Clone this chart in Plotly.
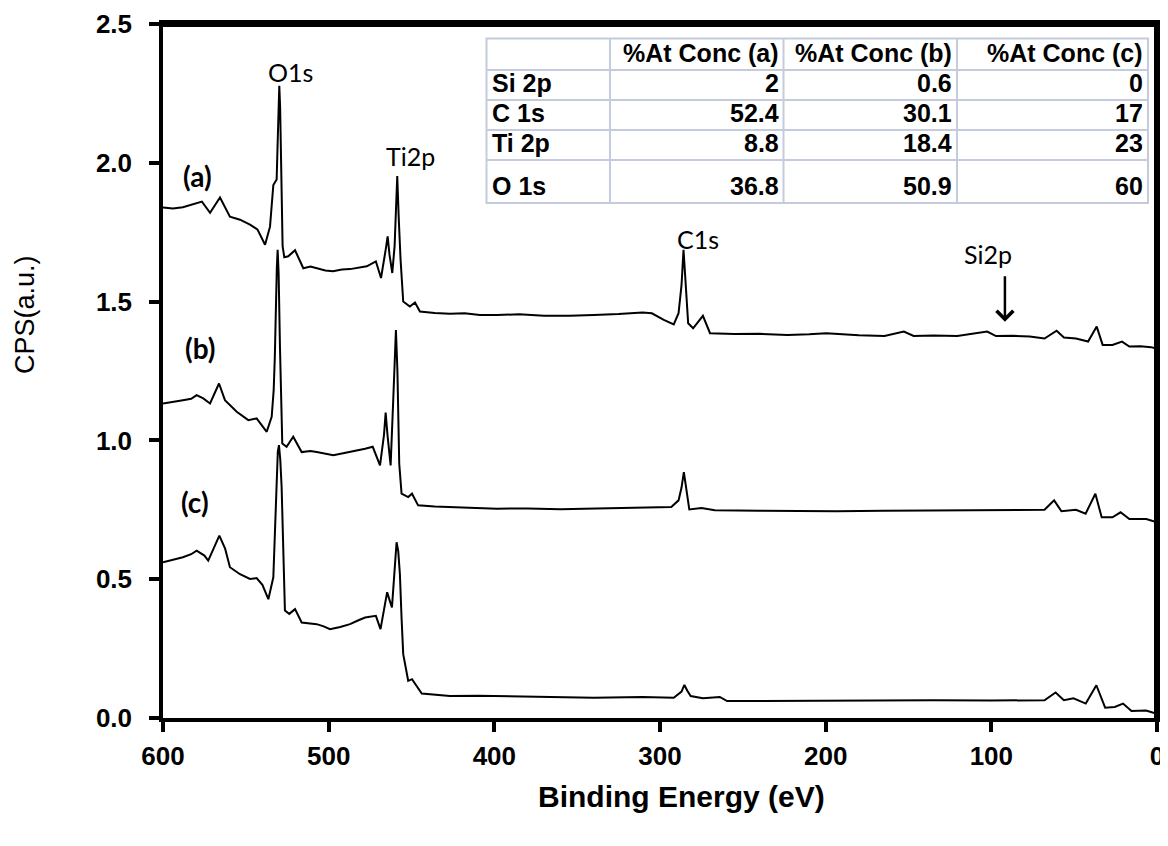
import plotly.graph_objects as go

# ---------------- data ----------------
be_a = [600, 594, 588, 582, 576.5, 571.6, 565.6, 559.6, 553.5, 547.5, 543, 538.4, 535.4, 533.4, 532.4, 531.4,
        530.9, 530.4, 529.8, 529.3, 528.9, 528.4, 527.8, 526.8, 524.4, 520.3, 515.3, 511, 507.2, 502, 497.4, 492,
        487.1, 482, 477, 471.5, 468.4, 465.5, 464.4, 463.3, 461.6, 460.2, 459.4, 458.6, 457.7, 456.6, 455, 451,
        447.9, 444.9, 436, 426.8, 418, 408.7, 398.4, 385, 370, 354.5, 340, 325, 310.6, 304.9, 297.7, 291.7,
        288.8, 287, 285.8, 284.4, 283, 280, 274.1, 269.8, 255, 240, 223, 210, 199.6, 180, 164.5, 152.8, 146.9,
        135, 120.6, 102.5, 97.2, 87, 76.8, 67.9, 60.6, 56.2, 48.9, 41.6, 36.4, 32.8, 26.9, 21.1, 16.7, 10, 3.6, 0]
cps_a = [1.839, 1.835, 1.840, 1.850, 1.860, 1.820, 1.875, 1.806, 1.795, 1.777, 1.760, 1.705, 1.770, 1.920, 1.930, 1.940,
         2.050, 2.200, 2.277, 2.200, 2.020, 1.830, 1.700, 1.660, 1.663, 1.685, 1.620, 1.626, 1.620, 1.612, 1.609, 1.616,
         1.617, 1.622, 1.627, 1.645, 1.585, 1.690, 1.735, 1.670, 1.603, 1.700, 1.830, 1.952, 1.800, 1.651, 1.500, 1.482,
         1.497, 1.464, 1.459, 1.456, 1.458, 1.452, 1.452, 1.454, 1.449, 1.449, 1.452, 1.455, 1.461, 1.458, 1.434, 1.418,
         1.458, 1.560, 1.687, 1.560, 1.422, 1.404, 1.449, 1.386, 1.383, 1.384, 1.380, 1.382, 1.386, 1.379, 1.376, 1.392, 1.376,
         1.378, 1.376, 1.392, 1.376, 1.377, 1.374, 1.367, 1.395, 1.371, 1.367, 1.356, 1.410, 1.344, 1.344, 1.356, 1.338, 1.339, 1.336, 1.330]

be_b = [600, 594, 588, 583, 579.7, 575.7, 571.6, 566.2, 562.6, 555.5, 548.5, 543.5, 537.4, 534.4, 533.2, 532.5,
        531.8, 531.3, 530.8, 530.2, 529.4, 528.7, 528, 525.4, 521.4, 516.3, 511, 507.2, 502, 497.2, 492, 487.1,
        482, 478, 473.4, 469, 466.6, 465.6, 464.5, 462.6, 461, 460.2, 459.4, 458.5, 457.4, 456, 452, 449.7, 446,
        436, 426.8, 418, 408.7, 398.4, 380, 360, 345.8, 320, 300, 293.2, 288.8, 287, 285.6, 284, 282.3, 275,
        266.9, 240, 210, 193.7, 165, 135.3, 100, 67.9, 62.1, 57.7, 48.9, 43.1, 37.2, 33.4, 26.9, 22, 16.7, 6.5, 2.1, 0]
cps_b = [1.133, 1.140, 1.145, 1.150, 1.163, 1.151, 1.133, 1.205, 1.145, 1.103, 1.073, 1.079, 1.031, 1.085, 1.180, 1.300,
         1.518, 1.620, 1.687, 1.600, 1.338, 1.120, 0.989, 0.977, 1.013, 0.958, 0.962, 0.958, 0.952, 0.947, 0.953, 0.958,
         0.964, 0.970, 0.977, 0.910, 1.020, 1.100, 1.020, 0.910, 1.150, 1.300, 1.398, 1.250, 0.916, 0.808, 0.796, 0.808, 0.766,
         0.762, 0.760, 0.759, 0.757, 0.754, 0.755, 0.752, 0.754, 0.756, 0.757, 0.760, 0.784, 0.830, 0.886, 0.820, 0.751, 0.756,
         0.748, 0.747, 0.746, 0.745, 0.747, 0.748, 0.749, 0.750, 0.784, 0.745, 0.750, 0.736, 0.808, 0.723, 0.723, 0.741, 0.717, 0.717, 0.709, 0.708]

be_c = [600, 594, 588, 583, 579.7, 575, 572.7, 566, 562.5, 559.6, 553.5, 547.5, 543.5, 540, 536.4,
        533.4, 532.2, 531.4, 530.7, 530, 529.2, 528.4, 527.3, 526.4, 523.8, 520.3, 516.3, 511, 507.2, 503, 499.2, 493,
        487.1, 482, 478, 471.5, 468.7, 466, 464.7, 463, 461.8, 460, 459, 458, 457, 456, 455, 452, 449.7, 443.8,
        435, 426.8, 410, 398.4, 370, 340, 310.6, 291.7, 287, 285.3, 283.5, 281.5, 274.1, 263.9, 259.5,
        230, 193.7, 165, 135.3, 100, 67.9, 61.2, 56.2, 50.4, 43, 36.6, 31.3, 25.5, 20.5, 15.4, 6.6, 2.2, 0]
cps_c = [0.561, 0.570, 0.579, 0.590, 0.603, 0.585, 0.567, 0.657, 0.610, 0.543, 0.518, 0.501, 0.504, 0.480, 0.428,
         0.507, 0.700, 0.892, 0.960, 0.983, 0.930, 0.832, 0.550, 0.387, 0.375, 0.392, 0.344, 0.342, 0.338, 0.330, 0.320, 0.328,
         0.338, 0.352, 0.362, 0.368, 0.320, 0.410, 0.453, 0.420, 0.398, 0.550, 0.633, 0.600, 0.518, 0.360, 0.230, 0.134, 0.140, 0.088,
         0.082, 0.079, 0.080, 0.079, 0.076, 0.073, 0.076, 0.073, 0.095, 0.119, 0.098, 0.079, 0.071, 0.076, 0.061,
         0.062, 0.061, 0.063, 0.064, 0.063, 0.064, 0.092, 0.064, 0.071, 0.052, 0.118, 0.037, 0.040, 0.052, 0.025, 0.027, 0.019, 0.018]

sample_labels = ["(a)", "(b)", "(c)"]
label_pos_x = [579.2, 577.7, 580.4]
label_pos_y = [1.954, 1.333, 0.777]

peak_names = ["O1s", "Ti2p", "C1s", "Si2p"]
peak_x = [523.0, 450.6, 277.0, 102.3]
peak_y = [2.328, 2.023, 1.727, 1.673]

x_ticks = [600, 500, 400, 300, 200, 100, 0]
y_ticks = [0.0, 0.5, 1.0, 1.5, 2.0, 2.5]

table_header = ["", "%At Conc (a)", "%At Conc (b)", "%At Conc (c)"]
table_elements = ["Si 2p", "C 1s", "Ti 2p", "O 1s"]
conc_a = ["2", "52.4", "8.8", "36.8"]
conc_b = ["0.6", "30.1", "18.4", "50.9"]
conc_c = ["0", "17", "23", "60"]

# ---------------- figure geometry ----------------
# page body has an 8px margin, so the figure is shifted by OFF in the screenshot
OFF = 8
W, H = 1152, 830
PLOT_L, PLOT_R, PLOT_T, PLOT_B = 163, 1157, 24, 718   # target plot area in screen pixels
ML = PLOT_L - OFF
MR = W - (PLOT_R - OFF)
MT = PLOT_T - OFF
MB = H - (PLOT_B - OFF)
PW, PH = PLOT_R - PLOT_L, PLOT_B - PLOT_T


def px2paper_x(px):
    return (px - PLOT_L) / PW


def px2paper_y(py):
    return (PLOT_B - py) / PH


fig = go.Figure()
for xs, ys, name in [(be_a, cps_a, "(a)"), (be_b, cps_b, "(b)"), (be_c, cps_c, "(c)")]:
    fig.add_trace(go.Scatter(x=xs, y=ys, mode="lines", name=name,
                             line=dict(color="black", width=2), showlegend=False))

label_font = "Lato, Carlito, sans-serif"
annotations = []
for t, x, y in zip(sample_labels, label_pos_x, label_pos_y):
    annotations.append(dict(x=x, y=y, xref="x", yref="y", text="<b>" + t + "</b>", showarrow=False,
                            xanchor="center", yanchor="middle",
                            font=dict(family=label_font, size=28, color="black")))
for t, x, y in zip(peak_names, peak_x, peak_y):
    annotations.append(dict(x=x, y=y, xref="x", yref="y", text=t, showarrow=False,
                            xanchor="center", yanchor="middle",
                            font=dict(family=label_font, size=25, color="black")))
# Si2p arrow
annotations.append(dict(x=91.8, y=1.427, ax=91.8, ay=1.597, xref="x", yref="y", axref="x", ayref="y",
                        text="", showarrow=True, arrowhead=4, arrowsize=1.3, arrowwidth=2.5, arrowcolor="black"))

# axis titles
annotations.append(dict(x=px2paper_x(681), y=px2paper_y(797), xref="paper", yref="paper",
                        xanchor="center", yanchor="middle",
                        text="<b>Binding Energy (eV)</b>", showarrow=False,
                        font=dict(family="Arial, Liberation Sans", size=30, color="black")))
annotations.append(dict(x=px2paper_x(25), y=px2paper_y(315), xref="paper", yref="paper",
                        xanchor="center", yanchor="middle",
                        text="CPS(a.u.)", showarrow=False, textangle=-90,
                        font=dict(family="Arial, Liberation Sans", size=27, color="black")))

# ---------------- frame + inset table (shapes + text) ----------------
frame = dict(color="black", width=4)
top_y = px2paper_y(PLOT_T + 1)
right_x = px2paper_x(PLOT_R - 1)
shapes = [
    dict(type="path", xref="paper", yref="paper",
         path="M 0 %f L %f %f L %f 0" % (top_y, right_x, top_y, right_x),
         line=frame, layer="above"),
]

col_edges = [486.5, 610, 783.5, 957, 1148]
row_edges = [38.5, 70, 100, 130, 160, 203]
grid_color = "#c3cbdc"
shapes.append(dict(type="rect", xref="paper", yref="paper",
                   x0=px2paper_x(col_edges[0]), x1=px2paper_x(col_edges[-1]),
                   y0=px2paper_y(row_edges[-1]), y1=px2paper_y(row_edges[0]),
                   fillcolor="white", line=dict(color=grid_color, width=2), layer="above"))
for cx in col_edges[1:-1]:
    shapes.append(dict(type="line", xref="paper", yref="paper", x0=px2paper_x(cx), x1=px2paper_x(cx),
                       y0=px2paper_y(row_edges[-1]), y1=px2paper_y(row_edges[0]),
                       line=dict(color=grid_color, width=2), layer="above"))
for ry in row_edges[1:-1]:
    shapes.append(dict(type="line", xref="paper", yref="paper", x0=px2paper_x(col_edges[0]), x1=px2paper_x(col_edges[-1]),
                       y0=px2paper_y(ry), y1=px2paper_y(ry),
                       line=dict(color=grid_color, width=2), layer="above"))

tfont = dict(family="Arial, Liberation Sans", size=25, color="black")
rows = [table_header] + [[e, a, b, c] for e, a, b, c in zip(table_elements, conc_a, conc_b, conc_c)]
for ri, row in enumerate(rows):
    ybot = row_edges[ri + 1] - 1
    for ci, txt in enumerate(row):
        if not txt:
            continue
        if ci == 0:
            annotations.append(dict(x=px2paper_x(col_edges[0] + 3), y=px2paper_y(ybot), xref="paper", yref="paper",
                                    xanchor="left", yanchor="bottom", text="<b>" + txt + "</b>",
                                    showarrow=False, font=tfont))
        else:
            annotations.append(dict(x=px2paper_x(col_edges[ci + 1] - 3), y=px2paper_y(ybot), xref="paper", yref="paper",
                                    xanchor="right", yanchor="bottom", text="<b>" + txt + "</b>",
                                    showarrow=False, font=tfont))

axis_common = dict(showline=True, linecolor="black", linewidth=3.5, mirror=True,
                   ticks="outside", ticklen=10, tickwidth=3.5, tickcolor="black",
                   showgrid=False, zeroline=False, ticklabeloverflow="allow", automargin=False,
                   tickfont=dict(family="Arial, Liberation Sans", size=26, color="black"))

fig.update_layout(
    width=W, height=H,
    margin=dict(l=ML, r=MR, t=MT, b=MB, autoexpand=False),
    paper_bgcolor="white", plot_bgcolor="white",
    xaxis=dict(range=[600, 0], tickvals=x_ticks, ticktext=["<b>%d</b>" % v for v in x_ticks],
               ticklabelstandoff=2, **axis_common),
    yaxis=dict(range=[0, 2.5], tickvals=y_ticks, ticktext=["<b>%.1f</b>" % v for v in y_ticks],
               ticklabelstandoff=12, **axis_common),
    annotations=annotations,
    shapes=shapes,
)

fig.write_html("out.html")
